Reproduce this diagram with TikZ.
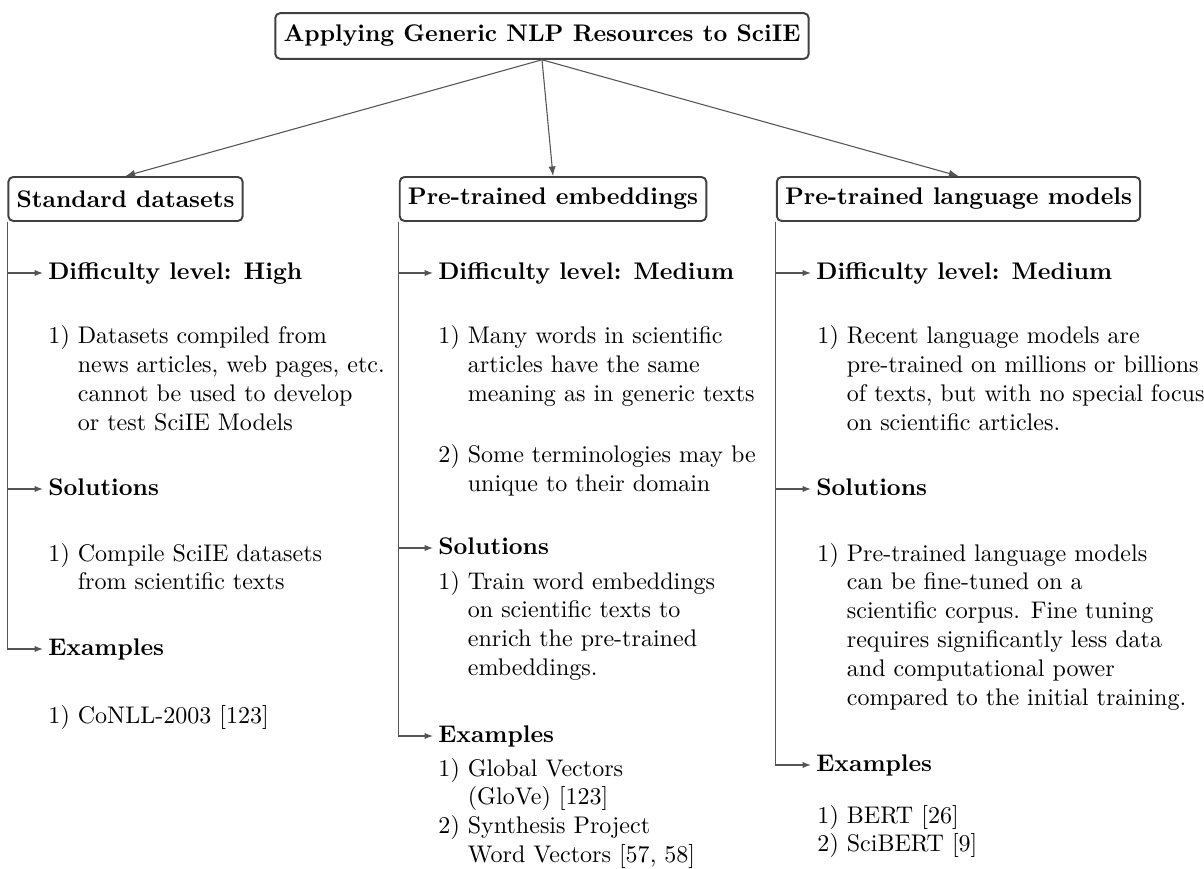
\documentclass[tikz,border=0pt]{standalone}
\usetikzlibrary{arrows.meta}
\definecolor{boxgray}{HTML}{404040}
\definecolor{linegray}{HTML}{555555}
\newcommand{\lst}[1]{\begin{tabular}[t]{@{}l@{\ }l@{}}#1\end{tabular}}
\begin{document}
\begin{tikzpicture}[x=0.416pt,y=-0.416pt,
  box/.style={draw=boxgray, line width=0.8pt, rounded corners=2pt, font=\bfseries,
    inner xsep=3.4pt, minimum height=18.3pt},
  head/.style={anchor=west, font=\bfseries, inner sep=2pt, text height=6.9pt, text depth=1.9pt},
  item/.style={anchor=base west, inner sep=0pt},
  link/.style={draw=linegray, line width=0.45pt, -{Latex[length=4pt,width=3pt]}},
  branch/.style={draw=linegray, line width=0.45pt, -{Latex[length=3.5pt,width=2.6pt]}},
]
\useasboundingbox (0,0) rectangle (1204,869);

% root and the three resource types
\node[box, minimum height=19pt] (root) at (542,36) {Applying Generic NLP Resources to SciIE};
\node[box] (std) at (125.5,199) {Standard datasets};
\node[box] (emb) at (553,199) {Pre-trained embeddings};
\node[box] (lm)  at (958.5,199) {Pre-trained language models};

\draw[link] (root.south) -- (std.north);
\draw[link] (root.south) -- (emb.north);
\draw[link] (root.south) -- (lm.north);

% ---- Standard datasets
\node[head] (stdD) at (43,273) {Difficulty level: High};
\node[item] (stdD1) at (48,344) {\lst{1) & Datasets compiled from\\ & news articles, web pages, etc.\\ & cannot be used to develop\\ & or test SciIE Models}};
\node[head] (stdS) at (43,489) {Solutions};
\node[item] (stdS1) at (48,561) {\lst{1) & Compile SciIE datasets\\ & from scientific texts}};
\node[head] (stdE) at (43,649) {Examples};
\node[item] (stdE1) at (48,723) {\lst{1) & CoNLL-2003 [123]}};

\draw[branch] (std.south west) |- (stdD.west);
\draw[branch] (std.south west) |- (stdS.west);
\draw[branch] (std.south west) |- (stdE.west);

% ---- Pre-trained embeddings
\node[head] (embD) at (433,273) {Difficulty level: Medium};
\node[item] (embD1) at (438,344) {\lst{1) & Many words in scientific\\ & articles have the same\\ & meaning as in generic texts}};
\node[item] (embD2) at (438,463) {\lst{2) & Some terminologies may be\\ & unique to their domain}};
\node[head] (embS) at (433,548) {Solutions};
\node[item] (embS1) at (438,589) {\lst{1) & Train word embeddings\\ & on scientific texts to\\ & enrich the pre-trained\\ & embeddings.}};
\node[head] (embE) at (433,736) {Examples};
\node[item] (embE1) at (438,776) {\lst{1) & Global Vectors\\ & (GloVe) [123]\\ 2) & Synthesis Project\\ & Word Vectors [57, 58]}};

\draw[branch] (emb.south west) |- (embD.west);
\draw[branch] (emb.south west) |- (embS.west);
\draw[branch] (emb.south west) |- (embE.west);

% ---- Pre-trained language models
\node[head] (lmD) at (811,273) {Difficulty level: Medium};
\node[item] (lmD1) at (817,344) {\lst{1) & Recent language models are\\ & pre-trained on millions or billions\\ & of texts, but with no special focus\\ & on scientific articles.}};
\node[head] (lmS) at (811,489) {Solutions};
\node[item] (lmS1) at (817,561) {\lst{1) & Pre-trained language models\\ & can be fine-tuned on a\\ & scientific corpus. Fine tuning\\ & requires significantly less data\\ & and computational power\\ & compared to the initial training.}};
\node[head] (lmE) at (811,765) {Examples};
\node[item] (lmE1) at (817,823) {\lst{1) & BERT [26]\\ 2) & SciBERT [9]}};

\draw[branch] (lm.south west) |- (lmD.west);
\draw[branch] (lm.south west) |- (lmS.west);
\draw[branch] (lm.south west) |- (lmE.west);
\end{tikzpicture}
\end{document}
